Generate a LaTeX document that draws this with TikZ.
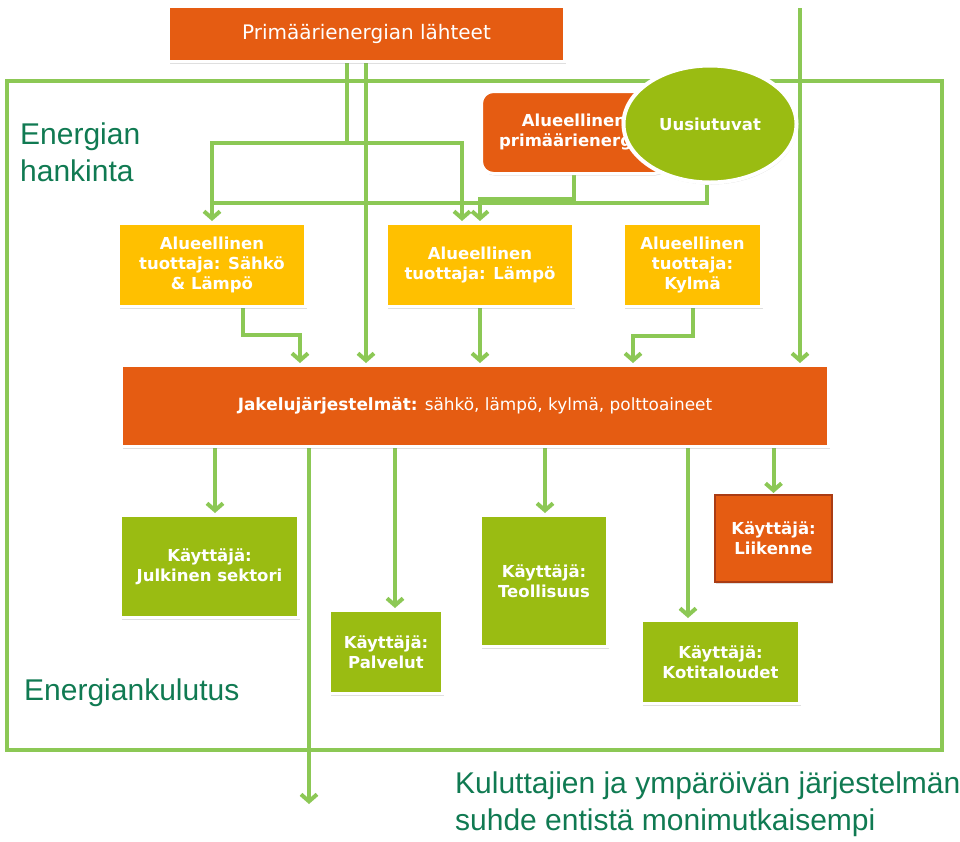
\documentclass[tikz,border=0pt]{standalone}
\usepackage{fontspec}
\setmainfont{DejaVu Sans}
\newfontfamily\labelfont{Liberation Sans}
\usetikzlibrary{arrows.meta,shapes.geometric,shadows,backgrounds}
\definecolor{orng}{RGB}{229,92,18}
\definecolor{yllw}{RGB}{255,192,0}
\definecolor{lime}{RGB}{154,188,18}
\definecolor{wire}{RGB}{140,200,85}
\definecolor{labelgreen}{RGB}{16,122,82}
\definecolor{rust}{RGB}{170,60,20}

\begin{document}
\begin{tikzpicture}[x=1pt,y=-1pt,shorten >=1pt]
  \tikzstyle{box}=[draw=white,line width=3pt,inner sep=2pt,align=center,text=white,
    font=\fontsize{16.5}{20}\selectfont\bfseries,
    drop shadow={opacity=0.25,shadow xshift=1pt,shadow yshift=-2pt}]
  \tikzstyle{flow}=[draw=wire,line width=4pt,-{Straight Barb[length=7pt,width=16pt]}]
  \tikzstyle{wireline}=[draw=wire,line width=4pt]
  \tikzstyle{frame}=[draw=wire,line width=3.5pt]
  \tikzstyle{lbl}=[text=labelgreen,inner sep=0pt,align=left,font=\labelfont\fontsize{30}{37}\selectfont]

  \useasboundingbox (0,0) rectangle (960,841);

  \node[box,fill=orng,font=\fontsize{20}{24}\selectfont,minimum width=396pt,minimum height=55pt] (src) at (366.5,34) {Primäärienergian lähteet};

  \node[box,fill=orng,rounded corners=12pt,minimum width=185pt,minimum height=82pt] (reg) at (574,132.5) {Alueellinen\\primäärienergia};

  \node[box,ellipse,fill=lime,line width=4pt,minimum width=173pt,minimum height=117pt] (ren) at (710,124) {Uusiutuvat};

  \node[box,fill=yllw,minimum width=187pt,minimum height=83pt] (pa) at (212,265) {Alueellinen\\tuottaja: Sähkö\\\& Lämpö};

  \node[box,fill=yllw,minimum width=187pt,minimum height=83pt] (pb) at (480,265) {Alueellinen\\tuottaja: Lämpö};

  \node[box,fill=yllw,minimum width=138pt,minimum height=83pt] (pc) at (692.5,265) {Alueellinen\\tuottaja:\\Kylmä};

  \node[box,fill=orng,font=\fontsize{16.9}{20}\selectfont,minimum width=707pt,minimum height=81pt] (dist) at (475,406) {\textbf{Jakelujärjestelmät:} sähkö, lämpö, kylmä, polttoaineet};

  \node[box,fill=lime,minimum width=178pt,minimum height=102pt] (pub) at (209.5,566.5) {Käyttäjä:\\Julkinen sektori};

  \node[box,fill=lime,minimum width=113pt,minimum height=83pt] (srv) at (386,652) {Käyttäjä:\\Palvelut};

  \node[box,fill=lime,minimum width=127pt,minimum height=131pt] (ind) at (544,581) {Käyttäjä:\\Teollisuus};

  \node[box,fill=orng,draw=rust,line width=2pt,minimum width=117pt,minimum height=87pt] (trf) at (773.5,538.5) {Käyttäjä:\\Liikenne};

  \node[box,fill=lime,minimum width=158pt,minimum height=83pt] (hom) at (720.5,662) {Käyttäjä:\\Kotitaloudet};

  \node[lbl,anchor=north west] (acq) at (20,123) {Energian\\hankinta};

  \node[lbl,anchor=base west] (use) at (24,700) {Energiankulutus};

  \node[lbl,anchor=north west] (note) at (455,772) {Kuluttajien ja ympäröivän järjestelmän\\suhde entistä monimutkaisempi};

  \coordinate (ext) at (800,8);
  \coordinate (out) at (309,805);

  \begin{scope}[on background layer]
    \draw[frame] (7,81) rectangle (942,750);
    \draw[flow] (src.south -| 347,0) -- (347,143) -| (pa.north);
    \draw[flow] (347,143) -| (pb.north -| 462,0);
    \draw[flow] (src.south -| 366,0) -- (dist.north -| 366,0);
    \draw[wireline] (ren.south -| 707,0) |- (212,203);
    \draw[flow] (reg.south) |- (480,199) -- (pb.north -| 480,0);
    \draw[flow] (ext) -- (dist.north -| ext);
    \draw[flow] (pa.south -| 243,0) |- (300,335) -- (dist.north -| 300,0);
    \draw[flow] (pb.south) -- (dist.north -| pb.south);
    \draw[flow] (pc.south) |- (633,336) -- (dist.north -| 633,0);
    \draw[flow] (dist.south -| 215,0) -- (pub.north -| 215,0);
    \draw[flow] (dist.south -| 309,0) -- (out);
    \draw[flow] (dist.south -| 395,0) -- (srv.north -| 395,0);
    \draw[flow] (dist.south -| 545,0) -- (ind.north -| 545,0);
    \draw[flow] (dist.south -| 688,0) -- (hom.north -| 688,0);
    \draw[flow] (dist.south -| trf.north) -- (trf.north);
  \end{scope}
\end{tikzpicture}
\end{document}
